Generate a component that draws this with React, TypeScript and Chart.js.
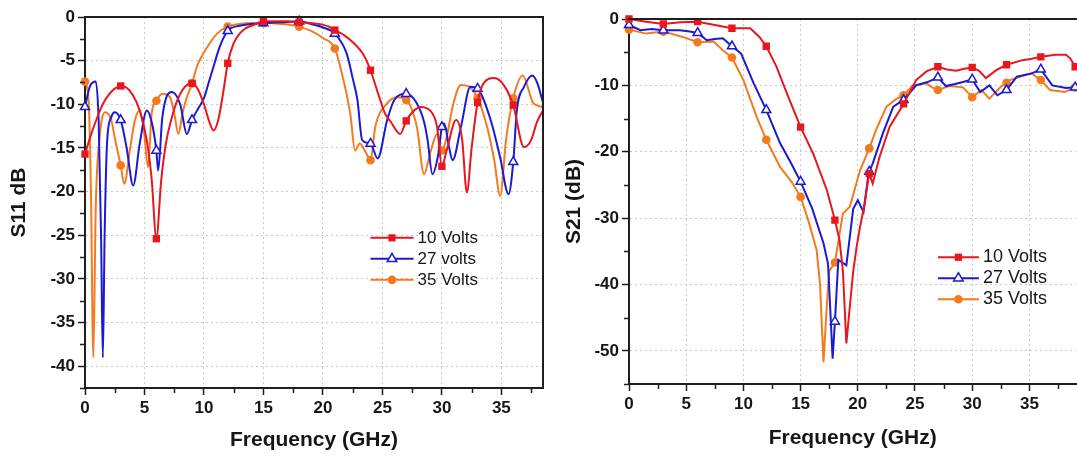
import React, { useEffect, useRef } from 'react';
import { Chart, registerables } from 'chart.js';

Chart.register(...registerables);

type Pt = [number, number];

// ---------------- S11 panel (left) ----------------
const s11SeriesNames = ['10 Volts', '27 volts', '35 Volts'];

const s11_10V: Pt[] = [
  [0, -15.7], [0.5, -13.5], [1, -11.6], [1.5, -10.0], [2, -8.9], [2.5, -8.2], [3, -7.9], [3.5, -8.1],
  [4, -8.9], [4.6, -10.7], [5.2, -14.2], [5.6, -18.5], [6, -25.4], [6.4, -18.8], [6.8, -14.5],
  [7.3, -11.5], [7.8, -9.4], [8.4, -8.0], [9, -7.6], [9.5, -8.3], [10, -10.0], [10.5, -12.2],
  [10.8, -13.0], [11.2, -11.8], [11.6, -8.8], [12, -5.3], [12.5, -3.0], [13, -1.9], [13.5, -1.3],
  [14.2, -0.9], [15, -0.5], [16, -0.5], [17, -0.5], [18, -0.6], [19, -0.7], [20, -0.9], [20.5, -1.1],
  [21, -1.5], [21.8, -2.1], [22.6, -3.0], [23.4, -4.3], [24, -6.1], [24.6, -8.6], [25.2, -11.0],
  [25.7, -12.0], [26.5, -13.4], [27, -11.9], [27.6, -10.8], [28.2, -10.3], [29, -10.7], [29.6, -12.6],
  [30, -17.1], [30.4, -15.3], [31.2, -11.8], [31.7, -14.0], [32.1, -20.1], [32.5, -15.0], [33, -9.8],
  [33.5, -7.6], [34.4, -7.0], [35.2, -7.8], [36, -10.1], [36.9, -14.9], [37.5, -14.1], [38, -12.0],
  [38.5, -10.7],
];

const s11_27V: Pt[] = [
  [0, -10.3], [0.4, -8.0], [0.9, -7.4], [1.15, -12.0], [1.35, -25.0], [1.5, -39.0], [1.65, -25.0],
  [1.85, -14.5], [2.2, -11.5], [2.5, -10.9], [3, -11.8], [3.5, -15.0], [4.05, -19.3], [4.6, -14.5],
  [5.2, -10.7], [5.6, -12.0], [6, -15.3], [6.15, -17.6], [6.5, -11.5], [7.3, -8.6], [8, -10.0],
  [8.56, -13.4], [9, -11.8], [9.5, -10.5], [10, -9.3], [10.4, -7.5], [10.8, -5.7], [11.3, -3.5],
  [12, -1.6], [13, -1.0], [14, -0.8], [15, -0.7], [16.5, -0.6], [18, -0.5], [19, -0.8], [20, -1.2],
  [21, -1.9], [22, -4.2], [22.5, -7.0], [22.9, -9.5], [23.3, -14.1], [24, -14.5], [24.6, -16.2],
  [25.4, -11.8], [26, -9.5], [27, -8.8], [27.9, -9.9], [28.5, -12.0], [28.8, -14.1], [29.2, -18.0],
  [29.7, -15.7], [30, -12.6], [30.2, -12.2], [30.6, -14.9], [30.9, -16.4], [31.6, -12.6],
  [32.4, -8.0], [33, -8.2], [34.1, -11.8], [34.9, -16.1], [35.6, -20.3], [36, -16.6], [36.3, -10.7],
  [36.9, -8.0], [37.6, -6.7], [38, -7.5], [38.5, -9.8],
];

const s11_35V: Pt[] = [
  [0, -7.4], [0.3, -9.5], [0.5, -20.0], [0.7, -39.0], [0.9, -22.0], [1.26, -13.4], [1.7, -10.9],
  [2.2, -11.8], [2.6, -14.5], [3, -17.0], [3.3, -19.1], [3.8, -15.0], [4.2, -11.8], [4.6, -10.7],
  [4.95, -13.0], [5.3, -17.2], [5.6, -11.1], [6, -9.6], [6.5, -8.8], [7.15, -9.2], [7.5, -11.0],
  [7.85, -13.4], [8.2, -11.0], [8.56, -9.2], [9, -7.6], [9.4, -5.7], [9.7, -4.8], [10.2, -3.6],
  [11.1, -1.9], [12, -1.1], [13, -0.8], [14, -0.7], [15, -0.7], [16.5, -0.8], [18, -1.1], [19, -1.6],
  [20, -2.4], [21, -3.6], [21.6, -6.5], [22.3, -11.1], [22.7, -15.3], [23.1, -14.5], [23.6, -15.5],
  [24, -16.4], [24.4, -12.6], [25.4, -9.9], [26.2, -9.2], [27, -9.5], [27.9, -12.6], [28.5, -18.0],
  [29, -15.7], [29.6, -13.4], [30, -15.3], [30.4, -13.8], [30.9, -10.3], [31.6, -7.8], [32.4, -8.1],
  [33, -9.3], [33.8, -12.6], [34.4, -16.4], [34.9, -20.5], [35.4, -14.0], [36, -9.3], [36.8, -6.7],
  [37.7, -9.9], [38.5, -10.3],
];

const s11XTickLabels = [0, 5, 10, 15, 20, 25, 30, 35];
const s11YTickLabels = [0, -5, -10, -15, -20, -25, -30, -35, -40];
const s11XRange: Pt = [0, 38.5];
const s11YRange: Pt = [-42.5, 0];

// ---------------- S21 panel (right) ----------------
const s21SeriesNames = ['10 Volts', '27 Volts', '35 Volts'];

const s21_10V: Pt[] = [
  [0, 0], [1.5, -0.4], [3, -0.75], [4.5, -0.5], [6, -0.4], [7.5, -0.9], [9, -1.4], [10.6, -1.4],
  [11.4, -2.7], [12, -4.1], [12.9, -7.2], [13.8, -11.2], [15, -16.3], [16.1, -20.3], [17.3, -25.8],
  [18, -30.3], [18.4, -33.3], [18.7, -38.0], [19, -48.9], [19.3, -43.4], [19.6, -38.0], [19.9, -34.3],
  [20.2, -31.3], [20.6, -27.8], [20.9, -24.3], [21, -23.3], [21.3, -24.8], [21.9, -20.8],
  [22.8, -16.2], [24, -12.8], [25.1, -9.2], [26, -7.9], [27, -7.2], [27.8, -7.6], [28.6, -7.8],
  [29.3, -7.5], [30, -7.3], [30.6, -7.8], [31.2, -8.9], [32.1, -7.7], [33, -6.9], [34.4, -6.2],
  [35.2, -6.0], [36, -5.7], [37.3, -5.4], [38.2, -5.4], [38.6, -6.0], [39, -7.2],
];

const s21_27V: Pt[] = [
  [0, -0.9], [1, -1.7], [2, -1.5], [3, -1.7], [4.45, -1.7], [5.3, -1.9], [6, -2.1], [6.8, -3.2],
  [7.5, -3.0], [8.2, -2.9], [9, -4.1], [9.8, -5.2], [10.9, -9.7], [12, -13.7], [13.2, -18.7],
  [14.1, -21.5], [15, -24.5], [16, -28.5], [17, -33.8], [17.4, -36.9], [17.6, -44.0], [17.8, -51.2],
  [18, -45.6], [18.3, -36.3], [19, -37.1], [19.6, -28.6], [20, -27.3], [20.5, -29.1], [20.9, -23.8],
  [21, -23.0], [21.3, -21.8], [22.2, -17.2], [23.1, -13.2], [24, -12.2], [25.1, -10.0], [26.1, -9.5],
  [27, -8.8], [27.7, -10.1], [28.5, -9.8], [29.2, -9.5], [30, -9.1], [30.7, -11.0], [31.5, -10.0],
  [32.2, -11.5], [33, -10.7], [33.9, -8.7], [35.2, -8.2], [36, -7.6], [37, -10.0], [38.2, -10.4],
  [39, -10.3],
];

const s21_35V: Pt[] = [
  [0, -1.6], [1.5, -2.2], [3, -1.9], [4.7, -2.7], [6, -3.5], [7.4, -3.4], [8.2, -4.7], [9, -5.8],
  [10, -9.2], [11.15, -14.7], [12, -18.2], [13.2, -22.3], [14.2, -24.5], [15, -26.8], [15.7, -30.5],
  [16.4, -34.8], [16.7, -40.0], [17, -51.7], [17.3, -43.0], [17.5, -38.0], [18, -36.7], [18.7, -29.3],
  [19.3, -28.3], [20.2, -22.8], [21, -19.5], [21.6, -16.7], [22.5, -13.2], [23.4, -12.0],
  [24, -11.5], [24.8, -10.0], [26, -9.7], [26.5, -10.3], [27, -10.7], [28, -10.1], [29.2, -10.3],
  [30, -11.8], [30.8, -10.7], [31.5, -12.0], [32.5, -10.2], [33, -9.6], [33.3, -9.2], [34.7, -8.4],
  [35.2, -8.2], [36, -9.2], [36.8, -10.7], [38.1, -11.0], [39, -10.3],
];

const s21XTickLabels = [0, 5, 10, 15, 20, 25, 30, 35];
const s21YTickLabels = [0, -10, -20, -30, -40, -50];
const s21XRange: Pt = [0, 39.1];
const s21YRange: Pt = [-55, 0];

const markerEvery = 3; // GHz between plotted symbols

// ---------------- styling ----------------
const FONT = '"Liberation Sans", Arial, Helvetica, sans-serif';
const COLORS = ['#e8161d', '#1a1ad4', '#f47a1f'];
const MARKERS = ['rect', 'triangle', 'circle'];
const MARKER_FILL = ['#e8161d', '#ffffff', '#f47a1f'];
const AXIS = '#1e1e1e';
const GRID = '#c9c9c9';
const TEXT = '#161616';

const near = (v: number, arr: number[]) => arr.some((a) => Math.abs(a - v) < 1e-6);
const isMarker = (x: number) => Math.abs(x / markerEvery - Math.round(x / markerEvery)) < 1e-6;

function drawMarker(ctx: CanvasRenderingContext2D, style: string, x: number, y: number, color: string, fill: string) {
  ctx.save();
  ctx.lineWidth = 1.5;
  ctx.strokeStyle = color;
  ctx.fillStyle = fill;
  ctx.beginPath();
  if (style === 'rect') {
    ctx.rect(x - 3.6, y - 3.6, 7.2, 7.2);
    ctx.fill();
  } else if (style === 'triangle') {
    const r = 5.5;
    ctx.moveTo(x, y - r);
    ctx.lineTo(x + r * 0.866, y + r * 0.5);
    ctx.lineTo(x - r * 0.866, y + r * 0.5);
    ctx.closePath();
    ctx.fill();
    ctx.stroke();
  } else {
    ctx.arc(x, y, 4.3, 0, Math.PI * 2);
    ctx.fill();
  }
  ctx.restore();
}

const decoPlugin = {
  id: 'deco',
  afterDatasetsDraw(chart: any, _args: any, opts: any) {
    const { ctx, chartArea: a, scales } = chart;
    const xs = scales.x;
    const ys = scales.y;
    ctx.save();
    ctx.strokeStyle = AXIS;
    ctx.lineWidth = 2;
    ctx.beginPath();
    ctx.moveTo(a.left - 1, a.top);
    ctx.lineTo(opts.drawRight ? a.right + 1 : a.right + 10, a.top);
    ctx.stroke();
    if (opts.drawRight) {
      ctx.beginPath();
      ctx.moveTo(a.right, a.top);
      ctx.lineTo(a.right, a.bottom);
      ctx.stroke();
    }
    // minor ticks
    ctx.lineWidth = 1.5;
    for (const t of xs.ticks) {
      if (near(t.value, opts.xMajor)) continue;
      const px = Math.round(xs.getPixelForValue(t.value)) + 0.5;
      ctx.beginPath();
      ctx.moveTo(px, a.bottom);
      ctx.lineTo(px, a.bottom + 5);
      ctx.stroke();
    }
    for (const t of ys.ticks) {
      if (near(t.value, opts.yMajor)) continue;
      const py = Math.round(ys.getPixelForValue(t.value)) + 0.5;
      ctx.beginPath();
      ctx.moveTo(a.left - 5, py);
      ctx.lineTo(a.left, py);
      ctx.stroke();
    }
    // legend
    const L = opts.legend;
    const lx = xs.getPixelForValue(L.x);
    const ly = ys.getPixelForValue(L.y);
    ctx.font = L.font;
    ctx.textBaseline = 'middle';
    ctx.textAlign = 'left';
    chart.data.datasets.forEach((ds: any, i: number) => {
      const y = ly + i * L.gap;
      ctx.strokeStyle = ds.borderColor;
      ctx.lineWidth = 2;
      ctx.beginPath();
      ctx.moveTo(lx, y);
      ctx.lineTo(lx + L.len, y);
      ctx.stroke();
      drawMarker(ctx, ds.pointStyle, lx + L.len / 2, y, ds.borderColor, ds.pointBackgroundColor);
      ctx.fillStyle = TEXT;
      ctx.fillText(ds.label, lx + L.len + 4, y);
    });
    ctx.restore();
  },
};

interface Panel {
  names: string[];
  series: Pt[][];
  xLabels: number[];
  yLabels: number[];
  xRange: Pt;
  yRange: Pt;
  xMinor: number;
  yMinor: number;
  xTitle: string;
  yTitle: string;
  smooth: boolean;
  padding: { left: number; top: number; right: number; bottom: number };
  yWidth: number;
  xHeight: number;
  legend: { x: number; y: number; gap: number; len: number; font: string };
  drawRight: boolean;
}

function axis(labels: number[], range: Pt, minor: number, title: string, size: { key: 'width' | 'height'; v: number }) {
  return {
    type: 'linear' as const,
    min: range[0],
    max: range[1],
    afterFit: (s: any) => {
      s[size.key] = size.v;
    },
    ticks: {
      stepSize: minor,
      includeBounds: false,
      autoSkip: false,
      maxRotation: 0,
      padding: 3,
      color: TEXT,
      font: { family: FONT, size: 17, weight: 'bold' as const },
      callback: (v: any) => (near(Number(v), labels) ? String(v) : ''),
    },
    grid: {
      display: true,
      drawOnChartArea: true,
      drawTicks: true,
      tickLength: 7,
      tickWidth: 1.5,
      lineWidth: 1,
      color: (c: any) => {
        const v = c.tick ? c.tick.value : NaN;
        return near(v, labels) && v !== range[0] && v !== range[1] ? GRID : 'rgba(0,0,0,0)';
      },
      tickColor: (c: any) => {
        const v = c.tick ? c.tick.value : NaN;
        return near(v, labels) ? AXIS : 'rgba(0,0,0,0)';
      },
    },
    border: { display: true, color: AXIS, width: 2, dash: [2, 3] },
    title: {
      display: true,
      text: title,
      color: TEXT,
      font: { family: FONT, size: 21, weight: 'bold' as const },
      padding: { top: 4, bottom: 4 },
    },
  };
}

function buildChart(canvas: HTMLCanvasElement, p: Panel) {
  const datasets = p.series.map((pts, i) => ({
    label: p.names[i],
    data: pts.map(([x, y]) => ({ x, y })),
    borderColor: COLORS[i],
    backgroundColor: MARKER_FILL[i],
    borderWidth: 2,
    pointStyle: MARKERS[i],
    pointBackgroundColor: MARKER_FILL[i],
    pointBorderColor: COLORS[i],
    pointBorderWidth: MARKERS[i] === 'triangle' ? 1.5 : 0,
    pointRadius: (c: any) => (c.raw && isMarker(c.raw.x) ? (MARKERS[i] === 'circle' ? 4.3 : 5.2) : 0),
    pointHoverRadius: 0,
    cubicInterpolationMode: p.smooth ? ('monotone' as const) : ('default' as const),
    tension: 0,
    clip: 8,
  }));
  return new Chart(canvas, {
    type: 'line',
    data: { datasets },
    options: {
      responsive: false,
      animation: false,
      devicePixelRatio: 1,
      events: [],
      layout: { padding: p.padding },
      scales: {
        x: axis(p.xLabels, p.xRange, p.xMinor, p.xTitle, { key: 'height', v: p.xHeight }),
        y: axis(p.yLabels, p.yRange, p.yMinor, p.yTitle, { key: 'width', v: p.yWidth }),
      },
      plugins: {
        legend: { display: false },
        tooltip: { enabled: false },
        deco: {
          drawRight: p.drawRight,
          xMajor: p.xLabels,
          yMajor: p.yLabels,
          legend: p.legend,
        },
      } as any,
    },
    plugins: [decoPlugin],
  } as any);
}

const leftPanel: Panel = {
  names: s11SeriesNames,
  series: [s11_10V, s11_27V, s11_35V],
  xLabels: s11XTickLabels,
  yLabels: s11YTickLabels,
  xRange: s11XRange,
  yRange: s11YRange,
  xMinor: 2.5,
  yMinor: 2.5,
  xTitle: 'Frequency (GHz)',
  yTitle: 'S11 dB',
  smooth: true,
  padding: { left: 3, top: 17, right: 17, bottom: 0 },
  yWidth: 82,
  xHeight: 69,
  legend: { x: 24.0, y: -25.3, gap: 21, len: 43, font: `17px ${FONT}` },
  drawRight: true,
};

const rightPanel: Panel = {
  names: s21SeriesNames,
  series: [s21_10V, s21_27V, s21_35V],
  xLabels: s21XTickLabels,
  yLabels: s21YTickLabels,
  xRange: s21XRange,
  yRange: s21YRange,
  xMinor: 2.5,
  yMinor: 5,
  xTitle: 'Frequency (GHz)',
  yTitle: 'S21 (dB)',
  smooth: false,
  padding: { left: 10, top: 19, right: 0, bottom: 2 },
  yWidth: 71,
  xHeight: 71,
  legend: { x: 27.0, y: -35.9, gap: 21, len: 41, font: `18px ${FONT}` },
  drawRight: false,
};

function ChartCanvas({ panel, left, width }: { panel: Panel; left: number; width: number }) {
  const ref = useRef<HTMLCanvasElement>(null);
  useEffect(() => {
    if (!ref.current) return;
    const chart = buildChart(ref.current, panel);
    return () => chart.destroy();
  }, [panel]);
  return (
    <canvas
      ref={ref}
      width={width}
      height={457}
      style={{ position: 'absolute', left, top: 0, width, height: 457 }}
    />
  );
}

export default function App() {
  return (
    <div
      style={{
        position: 'fixed',
        left: 0,
        top: 0,
        width: 1077,
        height: 457,
        overflow: 'hidden',
        background: '#ffffff',
      }}
    >
      <ChartCanvas panel={leftPanel} left={0} width={560} />
      <ChartCanvas panel={rightPanel} left={548} width={535} />
    </div>
  );
}
